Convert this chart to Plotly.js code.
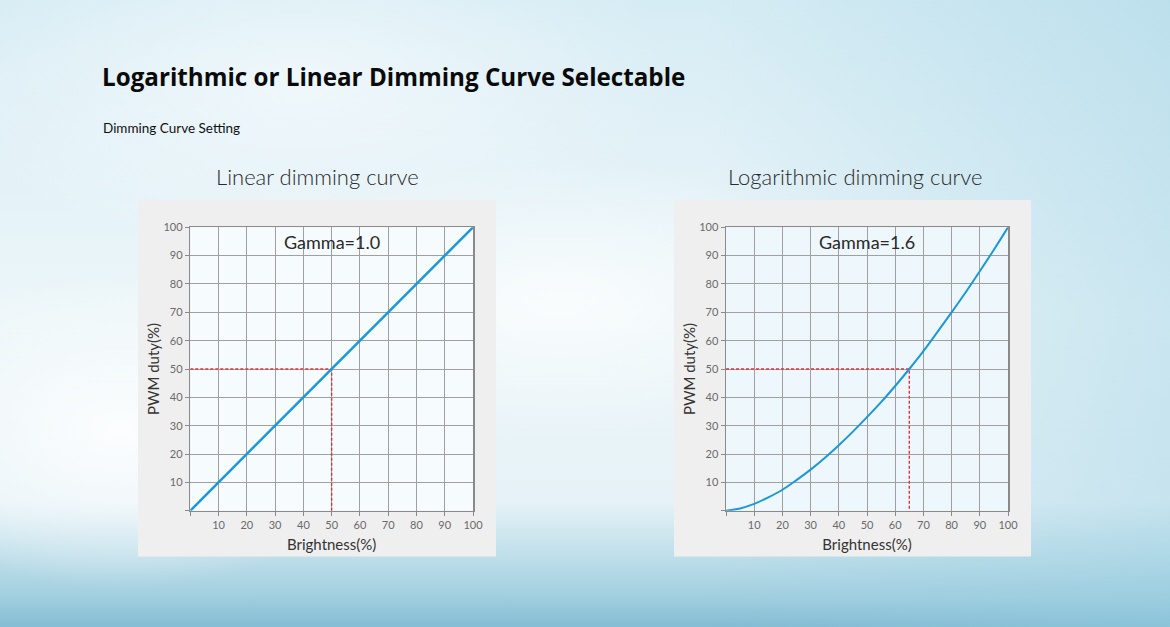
<!DOCTYPE html>
<html>
<head>
<meta charset="utf-8">
<script src="https://cdn.plot.ly/plotly-3.0.1.min.js"></script>
<style>
  html, body { margin: 0; padding: 0; width: 1170px; height: 627px; overflow: hidden; }
  body {
    background:
      radial-gradient(ellipse 260px 160px at 120px 430px, rgba(255,255,255,0.85), rgba(255,255,255,0) 100%),
      radial-gradient(ellipse 300px 140px at 560px 300px, rgba(255,255,255,0.7), rgba(255,255,255,0) 100%),
      radial-gradient(ellipse 380px 170px at 300px 80px, rgba(255,255,255,0.55), rgba(255,255,255,0) 100%),
      linear-gradient(to right, rgba(255,255,255,0.0) 0%, rgba(255,255,255,0.0) 60%, rgba(150,205,225,0.4) 100%),
      linear-gradient(to bottom, #d6ecf4 0%, #e2f1f7 25%, #ecf6f9 50%, #e6f2f7 80%, #c2e0eb 88%, #a2cfe0 95%, #84bcd3 100%);
  }
  #chart { width: 1170px; height: 627px; }
</style>
</head>
<body>
<div id="chart"></div>
<script>
// ---- data ----
var brightnessTicks = [0, 10, 20, 30, 40, 50, 60, 70, 80, 90, 100];
var tickLabels = ['', '10', '20', '30', '40', '50', '60', '70', '80', '90', '100'];

var linearBrightness = [0, 100];
var linearDuty = [0, 100];

var logBrightness = [0, 5, 10, 15, 20, 25, 30, 35, 40, 45, 50, 55, 60, 65, 70, 75, 80, 85, 90, 95, 100];
var logDuty       = [0, 0.8, 2.4, 4.7, 7.4, 10.8, 14.5, 18.6, 23.1, 27.9, 33, 38.3, 44, 50, 56.3, 63.1, 70, 77.1, 84.5, 92.1, 100];

var linearMarkerX = [0, 50, 50];
var linearMarkerY = [50, 50, 0];
var logMarkerX = [0, 65, 65];
var logMarkerY = [50, 50, 0];

var chartTitles = ['Linear dimming curve', 'Logarithmic dimming curve'];
var gammaLabels = ['Gamma=1.0', 'Gamma=1.6'];
var pageTitle = 'Logarithmic or Linear Dimming Curve Selectable';
var pageSubtitle = 'Dimming Curve Setting';

// ---- styles ----
var W = 1170, H = 627;
var blue = '#1b98d8', red = '#e0323c', grid = '#a0a0a0';
var fontFam = 'Lato, "Open Sans", sans-serif';

function px(x) { return x / W; }
function py(y) { return 1 - y / H; }

function axisBase(domain, anchor, titleText, standoff) {
  return {
    domain: domain, anchor: anchor, range: [0, 100], fixedrange: true,
    tickvals: brightnessTicks, ticktext: tickLabels,
    showgrid: true, gridcolor: grid, gridwidth: 1,
    showline: true, linecolor: '#8a8a8a', linewidth: 1.5, mirror: true,
    ticks: 'outside', ticklen: 4, tickcolor: '#8a8a8a',
    tickfont: { family: fontFam, size: 11, color: '#6a6a6a' },
    zeroline: false,
    title: { text: titleText, font: { family: fontFam, size: 15, color: '#333' }, standoff: standoff }
  };
}

var yDom = [py(510.7), py(227.3)];

var traces = [
  { x: linearMarkerX, y: linearMarkerY, xaxis: 'x', yaxis: 'y', mode: 'lines',
    line: { color: red, width: 1.4, dash: '3px,2px' }, hoverinfo: 'skip', showlegend: false },
  { x: linearBrightness, y: linearDuty, xaxis: 'x', yaxis: 'y', mode: 'lines',
    line: { color: blue, width: 2.5 }, showlegend: false, cliponaxis: false },
  { x: logMarkerX, y: logMarkerY, xaxis: 'x2', yaxis: 'y2', mode: 'lines',
    line: { color: red, width: 1.4, dash: '3px,2px' }, hoverinfo: 'skip', showlegend: false },
  { x: logBrightness, y: logDuty, xaxis: 'x2', yaxis: 'y2', mode: 'lines',
    line: { color: blue, width: 2, shape: 'spline', smoothing: 1 }, showlegend: false, cliponaxis: false }
];

var layout = {
  width: W, height: H,
  margin: { l: 0, r: 0, t: 0, b: 0 },
  paper_bgcolor: 'rgba(0,0,0,0)',
  plot_bgcolor: 'rgba(0,0,0,0)',
  showlegend: false,
  xaxis: axisBase([px(190.3), px(473)], 'y', 'Brightness(%)', 9),
  yaxis: axisBase(yDom, 'x', 'PWM duty(%)', 0),
  xaxis2: axisBase([px(726), px(1008)], 'y2', 'Brightness(%)', 9),
  yaxis2: axisBase(yDom, 'x2', 'PWM duty(%)', 0),
  shapes: [
    { type: 'rect', xref: 'paper', yref: 'paper', x0: px(138), x1: px(496), y0: py(556.5), y1: py(200),
      fillcolor: '#efefef', line: { width: 0 }, layer: 'below' },
    { type: 'rect', xref: 'paper', yref: 'paper', x0: px(674), x1: px(1031), y0: py(556.5), y1: py(200),
      fillcolor: '#efefef', line: { width: 0 }, layer: 'below' },
    { type: 'rect', xref: 'x domain', yref: 'y domain', x0: 0, x1: 1, y0: 0, y1: 1,
      fillcolor: 'rgba(246,251,253,1)', line: { width: 0 }, layer: 'below' },
    { type: 'rect', xref: 'x2 domain', yref: 'y2 domain', x0: 0, x1: 1, y0: 0, y1: 1,
      fillcolor: 'rgba(238,247,251,1)', line: { width: 0 }, layer: 'below' }
  ],
  annotations: [
    { text: '<b>' + pageTitle + '</b>', xref: 'paper', yref: 'paper', x: px(100), y: py(77),
      xanchor: 'left', yanchor: 'middle', showarrow: false,
      font: { family: '"Open Sans", sans-serif', size: 24.2, color: '#0a0a0a' } },
    { text: pageSubtitle, xref: 'paper', yref: 'paper', x: px(101), y: py(128),
      xanchor: 'left', yanchor: 'middle', showarrow: false,
      font: { family: 'Lato, sans-serif', size: 13.5, color: '#111' } },
    { text: chartTitles[0], xref: 'paper', yref: 'paper', x: px(317), y: py(176),
      xanchor: 'center', yanchor: 'middle', showarrow: false,
      font: { family: 'Lato, sans-serif', size: 22, weight: 300, color: '#2a2a2a' } },
    { text: chartTitles[1], xref: 'paper', yref: 'paper', x: px(855), y: py(176),
      xanchor: 'center', yanchor: 'middle', showarrow: false,
      font: { family: 'Lato, sans-serif', size: 22, weight: 300, color: '#2a2a2a' } },
    { text: gammaLabels[0], xref: 'x', yref: 'paper', x: 50, y: py(241.5),
      xanchor: 'center', yanchor: 'middle', showarrow: false,
      font: { family: fontFam, size: 18, color: '#2a2a2a' } },
    { text: gammaLabels[1], xref: 'x2', yref: 'paper', x: 50, y: py(241.5),
      xanchor: 'center', yanchor: 'middle', showarrow: false,
      font: { family: fontFam, size: 18, color: '#2a2a2a' } }
  ]
};

Plotly.newPlot('chart', traces, layout, { displayModeBar: false, staticPlot: true });
</script>
</body>
</html>
